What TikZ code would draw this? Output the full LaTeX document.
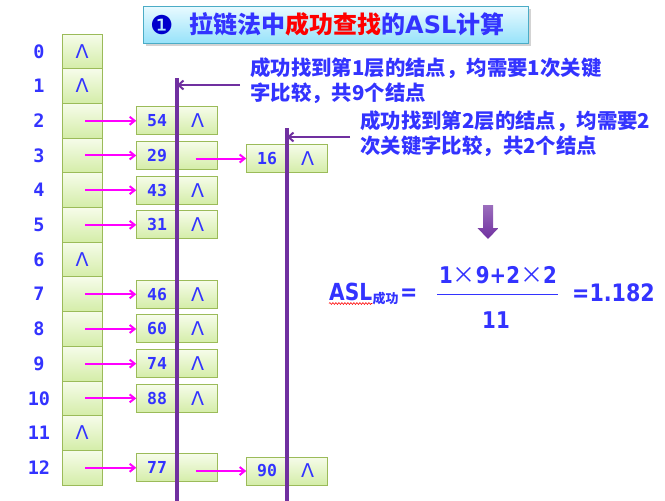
\documentclass[tikz,border=0pt]{standalone}
\usepackage{fontspec}
\setmainfont{DejaVu Sans}
\newfontfamily\cjk{Noto Sans CJK SC}
\newfontfamily\mono{DejaVu Sans Mono}
\newfontfamily\cond[FakeStretch=0.86]{DejaVu Sans}
\newfontfamily\lam{DejaVu Sans}
\usetikzlibrary{arrows.meta,shadows,decorations.pathmorphing}
\definecolor{blueT}{RGB}{51,51,255}
\definecolor{cellB}{RGB}{155,187,89}
\definecolor{cellT}{RGB}{246,252,234}
\definecolor{cellBot}{RGB}{212,237,168}
\definecolor{mag}{RGB}{255,0,255}
\definecolor{purp}{RGB}{112,48,160}
\definecolor{ttlT}{RGB}{232,250,255}
\definecolor{ttlB}{RGB}{150,226,250}
\definecolor{ttlD}{RGB}{75,172,198}
\newcommand\nul{{\lam\mdseries\fontsize{19}{19}\selectfont Λ}}
\begin{document}
\begin{tikzpicture}[x=1pt,y=-1pt,
  cell/.style={draw=cellB,line width=1pt,top color=cellT,bottom color=cellBot,minimum width=40pt,minimum height=34.7pt,inner sep=0pt,text=blueT},
  field/.style={draw=cellB,line width=1pt,top color=cellT,bottom color=cellBot,minimum width=40.5pt,minimum height=28pt,inner sep=0pt,text=blueT,font=\mono\bfseries\fontsize{16.5}{16.5}\selectfont},
  idx/.style={text=blueT,font=\mono\bfseries\fontsize{18.5}{18.5}\selectfont},
  magarrow/.style={draw=mag,line width=2pt,-{Straight Barb[length=5pt,width=8pt]}},
  purparrow/.style={draw=purp,line width=2pt,-{Straight Barb[length=5pt,width=9pt]}},
  vline/.style={draw=purp,line width=3.4pt},
  note/.style={text=blueT,font=\cjk\bfseries\fontsize{20.4}{25}\selectfont,align=left,anchor=west,inner sep=0pt},
  frm/.style={text=blueT,font=\cond\bfseries\fontsize{23}{23}\selectfont,inner sep=0pt}
]
\useasboundingbox (0,0) rectangle (665,501);
% title
\node[draw=ttlD,line width=1pt,top color=ttlT,bottom color=ttlB,minimum width=385pt,minimum height=37pt,inner sep=0pt,anchor=north west,drop shadow={shadow xshift=2pt,shadow yshift=-2pt,opacity=0.35}] (title) at (143,6) {};
\node[anchor=west,inner sep=0pt,text=blue!80!black,font=\lam\fontsize{26}{26}\selectfont] (ttlnum) at (150,25) {❶};
\node[anchor=west,inner sep=0pt,font=\cjk\bfseries\fontsize{24}{24}\selectfont,text=blueT] (ttxt) at (189,24.5) {拉链法中{\color{red}成功查找}的{\fontspec{DejaVu Sans}\bfseries ASL}计算};
% table
\foreach \i in {0,...,12}{
  \node[cell] (c\i) at (82,51.35+34.7*\i) {};
  \node[idx] (l\i) at (39,51.35+34.7*\i) {\i};
}
\foreach \i in {0,1,6,11}{ \node[text=blueT] (n\i) at (c\i.center) {\nul}; }
% first-level nodes
\foreach \i/\k in {2/54,3/29,4/43,5/31,7/46,8/60,9/74,10/88,12/77}{
  \node[field] (k\i) at (157,51.35+34.7*\i) {\k};
  \node[field] (p\i) at (197.5,51.35+34.7*\i) {};
  \draw[magarrow] ([xshift=3pt]c\i.center) -- (k\i.west);
}
\foreach \i in {2,4,5,7,8,9,10}{ \node[text=blueT] (q\i) at (p\i.center) {\nul}; }
% second-level nodes
\node[field] (s3k) at (267,158.5) {16};
\node[field] (s3p) at (307.5,158.5) {\nul};
\node[field] (s12k) at (267,471) {90};
\node[field] (s12p) at (307.5,471) {\nul};
\draw[magarrow] ([xshift=-2pt]p3.center |- s3k.west) -- (s3k.west);
\draw[magarrow] ([xshift=-2pt]p12.center |- s12k.west) -- (s12k.west);
% purple lines
\coordinate (v1t) at (177,78);
\coordinate (v1b) at (177,501);
\coordinate (v2t) at (287,128);
\coordinate (v2b) at (287,501);
\draw[vline] (v1t) -- (v1b);
\draw[vline] (v2t) -- (v2b);
\coordinate (a1s) at (240,85);
\coordinate (a2s) at (350,137);
\draw[purparrow] (a1s) -- (v1t |- a1s);
\draw[purparrow] (a2s) -- (v2t |- a2s);
% notes
\node[note] (t1) at (250,80.5) {成功找到第1层的结点，均需要1次关键\\字比较，共9个结点};
\node[note] (t2) at (360,133.5) {成功找到第2层的结点，均需要2\\次关键字比较，共2个结点};
% down arrow
\shade[top color=purp!70,bottom color=purp,draw=none] (483,205) -- (493,205) -- (493,228) -- (498.5,228) -- (488,239) -- (477.5,228) -- (483,228) -- cycle;
% formula
\node[frm,anchor=base west,font=\cond\bfseries\fontsize{23.5}{24}\selectfont] (asl) at (329,300) {ASL};
\node[anchor=base west,inner sep=0pt,text=blueT,font=\cjk\bfseries\fontsize{13}{13}\selectfont] (sub) at (asl.base east) {\raisebox{-3pt}{成功}};
\node[frm,anchor=base west,font=\cond\bfseries\fontsize{24}{24}\selectfont] (eq1) at ([xshift=1pt]sub.base east) {=};
\draw[red,line width=0.6pt,decorate,decoration={snake,amplitude=0.9pt,segment length=3pt}] ([yshift=-3.5pt]asl.base west) -- ([yshift=-3.5pt]asl.base east);
\node[frm] (num) at (498,275) {1{\cjk\mdseries\fontsize{23}{23}\selectfont ×}9+2{\cjk\mdseries\fontsize{23}{23}\selectfont ×}2};
\coordinate (fl) at (437,294.5);
\coordinate (fr) at (558,294.5);
\draw[blueT,line width=1.2pt] (fl) -- (fr);
\node[frm] (den) at (496,320) {11};
\node[frm,anchor=west,font=\cond\bfseries\fontsize{24}{24}\selectfont] (res) at (572,293) {=1.182};
\end{tikzpicture}
\end{document}
